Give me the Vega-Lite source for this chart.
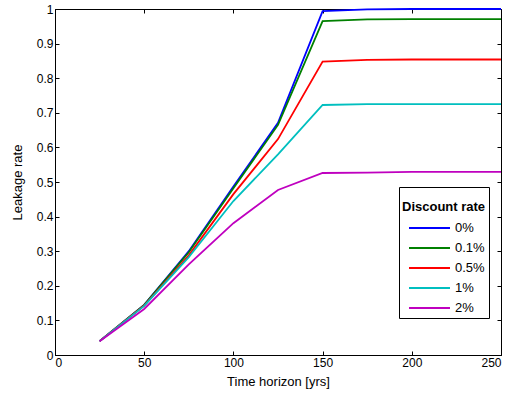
{
  "$schema": "https://vega.github.io/schema/vega-lite/v6.json",
  "autosize": "none",
  "width": 446,
  "height": 346,
  "padding": {"left": 55, "top": 9, "right": 11, "bottom": 42},
  "background": "white",
  "config": {
    "font": "Liberation Sans",
    "view": {"stroke": "black", "strokeWidth": 1},
    "axis": {
      "grid": false,
      "domainColor": "black",
      "tickColor": "black",
      "labelColor": "black",
      "titleColor": "black",
      "labelFont": "Liberation Sans",
      "titleFont": "Liberation Sans",
      "labelFontSize": 12,
      "titleFontSize": 13,
      "titleFontWeight": "normal",
      "tickSize": -4,
      "labelPadding": 6
    }
  },
  "data": {
    "values": [
      {"t": 25, "rate": "0%", "v": 0.04}, {"t": 50, "rate": "0%", "v": 0.145}, {"t": 75, "rate": "0%", "v": 0.30}, {"t": 100, "rate": "0%", "v": 0.487}, {"t": 125, "rate": "0%", "v": 0.671}, {"t": 150, "rate": "0%", "v": 0.994}, {"t": 175, "rate": "0%", "v": 0.999}, {"t": 200, "rate": "0%", "v": 1.0}, {"t": 225, "rate": "0%", "v": 1.0}, {"t": 250, "rate": "0%", "v": 1.0},
      {"t": 25, "rate": "0.1%", "v": 0.04}, {"t": 50, "rate": "0.1%", "v": 0.145}, {"t": 75, "rate": "0.1%", "v": 0.297}, {"t": 100, "rate": "0.1%", "v": 0.482}, {"t": 125, "rate": "0.1%", "v": 0.665}, {"t": 150, "rate": "0.1%", "v": 0.965}, {"t": 175, "rate": "0.1%", "v": 0.970}, {"t": 200, "rate": "0.1%", "v": 0.971}, {"t": 225, "rate": "0.1%", "v": 0.971}, {"t": 250, "rate": "0.1%", "v": 0.971},
      {"t": 25, "rate": "0.5%", "v": 0.04}, {"t": 50, "rate": "0.5%", "v": 0.143}, {"t": 75, "rate": "0.5%", "v": 0.288}, {"t": 100, "rate": "0.5%", "v": 0.465}, {"t": 125, "rate": "0.5%", "v": 0.624}, {"t": 150, "rate": "0.5%", "v": 0.848}, {"t": 175, "rate": "0.5%", "v": 0.853}, {"t": 200, "rate": "0.5%", "v": 0.854}, {"t": 225, "rate": "0.5%", "v": 0.854}, {"t": 250, "rate": "0.5%", "v": 0.854},
      {"t": 25, "rate": "1%", "v": 0.04}, {"t": 50, "rate": "1%", "v": 0.142}, {"t": 75, "rate": "1%", "v": 0.283}, {"t": 100, "rate": "1%", "v": 0.445}, {"t": 125, "rate": "1%", "v": 0.58}, {"t": 150, "rate": "1%", "v": 0.7225}, {"t": 175, "rate": "1%", "v": 0.725}, {"t": 200, "rate": "1%", "v": 0.725}, {"t": 225, "rate": "1%", "v": 0.725}, {"t": 250, "rate": "1%", "v": 0.725},
      {"t": 25, "rate": "2%", "v": 0.04}, {"t": 50, "rate": "2%", "v": 0.133}, {"t": 75, "rate": "2%", "v": 0.262}, {"t": 100, "rate": "2%", "v": 0.381}, {"t": 125, "rate": "2%", "v": 0.477}, {"t": 150, "rate": "2%", "v": 0.526}, {"t": 175, "rate": "2%", "v": 0.527}, {"t": 200, "rate": "2%", "v": 0.529}, {"t": 225, "rate": "2%", "v": 0.529}, {"t": 250, "rate": "2%", "v": 0.529}
    ]
  },
  "layer": [
    {
      "mark": {"type": "line", "strokeWidth": 1.8},
      "encoding": {
        "x": {"field": "t", "type": "quantitative", "scale": {"domain": [0, 250], "nice": false},
              "axis": {"orient": "bottom", "title": "Time horizon [yrs]", "values": [0, 50, 100, 150, 200, 250], "titlePadding": 7}},
        "y": {"field": "v", "type": "quantitative", "scale": {"domain": [0, 1], "nice": false},
              "axis": {"orient": "left", "title": "Leakage rate", "values": [0, 0.1, 0.2, 0.3, 0.4, 0.5, 0.6, 0.7, 0.8, 0.9, 1], "format": "~g", "titlePadding": 12}},
        "color": {"field": "rate", "type": "nominal",
                  "scale": {"domain": ["0%", "0.1%", "0.5%", "1%", "2%"], "range": ["#0000FF", "#008000", "#FF0000", "#00BFBF", "#BF00BF"]},
                  "legend": {"title": ["", "Discount rate"], "titleLineHeight": 11, "orient": "none", "legendX": 344, "legendY": 178,
                             "symbolType": "M0,0H6.833", "symbolSize": 144, "symbolStrokeWidth": 2,
                             "titleFontSize": 13, "titleFontWeight": "bold", "titleColor": "black",
                             "labelFontSize": 13, "labelColor": "black", "labelFont": "Liberation Sans", "titleFont": "Liberation Sans", "labelAlign": "left",
                             "strokeColor": "black", "fillColor": "white", "padding": 3, "rowPadding": 6, "titlePadding": 7, "labelOffset": 39}}
      }
    },
    {
      "mark": {"type": "point", "opacity": 0},
      "encoding": {
        "x": {"field": "t", "type": "quantitative", "axis": {"orient": "top", "labels": false, "title": null, "values": [0, 50, 100, 150, 200, 250], "domain": false}},
        "y": {"field": "v", "type": "quantitative", "axis": {"orient": "right", "labels": false, "title": null, "values": [0, 0.1, 0.2, 0.3, 0.4, 0.5, 0.6, 0.7, 0.8, 0.9, 1], "domain": false}}
      }
    }
  ],
  "resolve": {"axis": {"x": "independent", "y": "independent"}}
}
